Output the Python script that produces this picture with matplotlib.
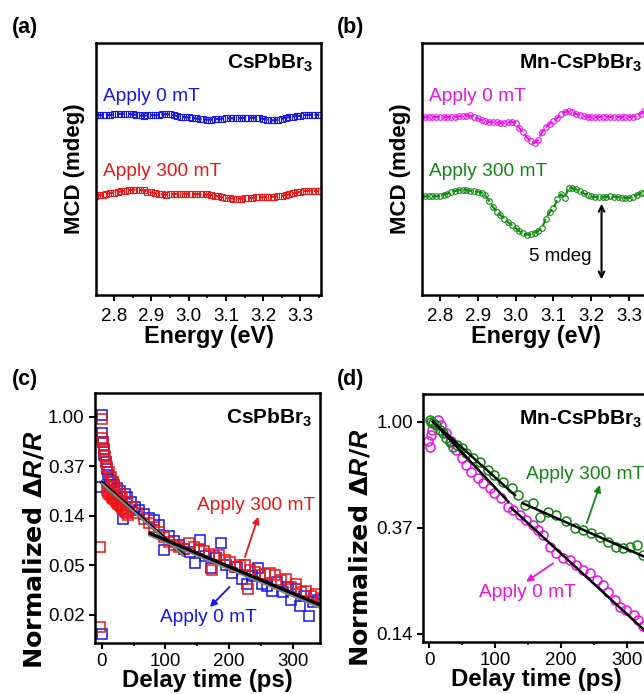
import numpy as np
import matplotlib
matplotlib.use("Agg")
import matplotlib.pyplot as plt
from matplotlib.ticker import FixedLocator, MultipleLocator, FormatStrFormatter

plt.rcParams["font.family"] = ["Liberation Sans", "DejaVu Sans"]
plt.rcParams["mathtext.fontset"] = "custom"
plt.rcParams["mathtext.rm"] = "Liberation Sans:bold"
plt.rcParams["mathtext.it"] = "Liberation Sans:bold:italic"
plt.rcParams["axes.linewidth"] = 1.8

# ---- MCD spectra (mdeg), energy grid in eV ----
energy = np.round(np.arange(2.75, 3.3501, 0.01), 2)

mcd_cs_0mT = [0.02, 0.03, 0.03, 0.02, 0.04, 0.08, 0.11, 0.13, 0.14, 0.12,
              0.08, 0.04, 0.01, 0.0, 0.01, 0.02, 0.03, 0.06, 0.09, 0.10,
              0.09, 0.04, -0.04, -0.07, -0.10, -0.12, -0.15, -0.19, -0.22, -0.25,
              -0.27, -0.27, -0.25, -0.22, -0.20, -0.18, -0.18, -0.18, -0.18, -0.17,
              -0.16, -0.15, -0.14, -0.14, -0.17, -0.22, -0.28, -0.32, -0.31, -0.27,
              -0.21, -0.14, -0.09, -0.06, -0.04, 0.0, 0.03, 0.05, 0.05, 0.05, 0.05]
mcd_cs_300mT = [0.0, 0.03, 0.07, 0.12, 0.17, 0.21, 0.25, 0.29, 0.34, 0.38,
                0.40, 0.40, 0.39, 0.35, 0.28, 0.22, 0.17, 0.12, 0.08, 0.06,
                0.08, 0.11, 0.13, 0.14, 0.13, 0.13, 0.12, 0.11, 0.10, 0.10,
                0.08, 0.04, 0.0, -0.05, -0.11, -0.15, -0.18, -0.20, -0.21, -0.20,
                -0.18, -0.16, -0.14, -0.12, -0.11, -0.10, -0.09, -0.08, -0.06, -0.04,
                -0.01, 0.04, 0.10, 0.16, 0.22, 0.27, 0.31, 0.33, 0.33, 0.32, 0.31]
mcd_mn_0mT = [-0.11, -0.11, -0.10, -0.10, -0.09, -0.09, -0.10, -0.10, -0.09, -0.07,
              -0.05, -0.03, 0.0, 0.01, -0.08, -0.18, -0.30, -0.38, -0.42, -0.44,
              -0.46, -0.48, -0.49, -0.46, -0.40, -0.52, -0.85, -1.12, -1.48, -1.72,
              -1.84, -1.62, -1.10, -0.78, -0.55, -0.37, -0.15, 0.08, 0.24, 0.29,
              0.22, 0.12, 0.03, -0.04, -0.07, -0.09, -0.09, -0.08, -0.08, -0.09,
              -0.09, -0.08, -0.09, -0.10, -0.09, -0.08, -0.06, -0.02, 0.12, 0.29, 0.30]
mcd_mn_300mT = [-0.05, -0.05, -0.04, -0.04, -0.04, 0.0, 0.06, 0.14, 0.24, 0.32,
                0.37, 0.40, 0.38, 0.33, 0.30, 0.27, 0.20, 0.02, -0.35, -0.75,
                -1.08, -1.32, -1.55, -1.80, -1.98, -2.18, -2.40, -2.55, -2.64, -2.60,
                -2.52, -2.38, -2.15, -1.55, -1.12, -0.84, -0.25, 0.10, -0.16, 0.55,
                0.50, 0.42, 0.30, 0.15, 0.05, -0.05, -0.10, -0.12, -0.10, -0.07,
                -0.05, -0.07, -0.10, -0.13, -0.16, -0.14, -0.08, 0.05, 0.18, 0.20, 0.20]
offset_0mT = 0.0
offset_300mT = -5.4

# ---- transient reflectance, CsPbBr3 ----
t_cs_300 = [-3, -3, 0, 1, 2, 3.5, 5, 7, 9, 11.5, 14, 17, 20, 24, 28, 32,
            8, 10, 12, 14, 16, 18, 20, 22, 24, 26, 28, 30, 32, 34, 36, 38, 40, 42,
            40, 48, 56, 66, 74, 82, 90, 98, 106, 113, 121, 129, 137, 145, 153, 161,
            169, 173, 177, 185, 193, 201, 209, 217, 225, 230, 233, 241, 249, 257, 265,
            273, 281, 289, 297, 305, 313, 321, 329, 337, 345]
v_cs_300 = [0.072, 0.0145, 0.955, 0.65, 0.60, 0.51, 0.45, 0.40, 0.365, 0.33, 0.30,
            0.27, 0.25, 0.23, 0.21, 0.20,
            0.228, 0.22, 0.21, 0.205, 0.20, 0.195, 0.19, 0.182, 0.178, 0.172, 0.168,
            0.165, 0.16, 0.155, 0.15, 0.147, 0.143, 0.138,
            0.18, 0.162, 0.145, 0.128, 0.118, 0.108, 0.097, 0.088, 0.080, 0.075,
            0.073, 0.070, 0.078, 0.072, 0.070, 0.066, 0.063, 0.045, 0.060, 0.062,
            0.056, 0.053, 0.048, 0.050, 0.050, 0.031, 0.045, 0.044, 0.041, 0.042,
            0.043, 0.041, 0.037, 0.038, 0.032, 0.034, 0.029, 0.030, 0.027, 0.028, 0.026]
t_cs_0 = [-3, 0, 0, 1, 2, 3, 4, 6, 8, 10, 13, 16, 20, 24, 28, 33, 36, 40, 46, 52,
          58, 66, 74, 82, 90, 98, 106, 114, 122, 130, 138, 146, 155, 163, 171, 180,
          188, 196, 204, 212, 220, 228, 236, 246, 252, 260, 268, 276, 285, 292, 298,
          305, 312, 318, 325, 332, 340]
v_cs_0 = [0.243, 1.03, 0.0125, 0.72, 0.60, 0.52, 0.46, 0.40, 0.35, 0.31, 0.28, 0.27,
          0.255, 0.24, 0.225, 0.128, 0.21, 0.20, 0.18, 0.162, 0.152, 0.142, 0.13,
          0.124, 0.112, 0.068, 0.090, 0.082, 0.075, 0.070, 0.065, 0.052, 0.083, 0.060,
          0.047, 0.058, 0.078, 0.050, 0.043, 0.048, 0.038, 0.034, 0.040, 0.047, 0.034,
          0.033, 0.030, 0.036, 0.029, 0.032, 0.025, 0.031, 0.022, 0.027, 0.018, 0.024,
          0.025]
fit_cs_early_t = [0, 128]
fit_cs_early_0 = [0.26, 0.061]
fit_cs_early_300 = [0.265, 0.062]
fit_cs_late_t = [76, 343]
fit_cs_late_0 = [0.092, 0.0215]
fit_cs_late_300 = [0.095, 0.0225]

# ---- transient reflectance, Mn-CsPbBr3 ----
t_mn_0 = [-2, 0.6, 2, 4, 5.6, 13, 18, 26, 33, 41, 49, 56, 64, 74, 82, 92, 99, 109,
          120, 127, 137, 147, 158, 165, 173, 183, 193, 203, 213, 223, 234, 244, 254,
          264, 272, 282, 289, 299, 310, 317, 325]
v_mn_0 = [0.83, 0.79, 0.88, 0.925, 0.985, 1.016, 0.97, 0.896, 0.83, 0.766, 0.708,
          0.665, 0.624, 0.586, 0.559, 0.533, 0.509, 0.485, 0.449, 0.435, 0.415, 0.396,
          0.377, 0.36, 0.343, 0.308, 0.289, 0.276, 0.271, 0.259, 0.247, 0.24, 0.225,
          0.214, 0.201, 0.186, 0.175, 0.169, 0.162, 0.154, 0.145]
t_mn_300 = [0.6, 3, 6, 11, 16, 21, 26, 31, 36, 42, 49, 56, 66, 77, 89, 99, 112, 125,
            135, 145, 158, 168, 180, 193, 208, 221, 234, 246, 259, 272, 284, 294, 305,
            315, 325]
v_mn_300 = [1.016, 1.0, 0.99, 0.97, 0.925, 0.896, 0.855, 0.828, 0.79, 0.80, 0.778,
            0.742, 0.708, 0.686, 0.634, 0.605, 0.568, 0.533, 0.501, 0.456, 0.463, 0.408,
            0.428, 0.415, 0.39, 0.366, 0.36, 0.349, 0.338, 0.322, 0.308, 0.303, 0.308,
            0.312, 0.285]
fit_mn_0_t = [[5.6, 120], [125, 345]]
fit_mn_0_v = [[1.0, 0.47], [0.442, 0.126]]
fit_mn_300_t = [[5.6, 130], [142, 345]]
fit_mn_300_v = [[1.0, 0.50], [0.463, 0.266]]

e_ticks = [1.0, np.exp(-1), np.exp(-2), np.exp(-3), np.exp(-4)]

W, H = 644, 694
fig = plt.figure(figsize=(W / 100, H / 100), dpi=100)
note_fs = 13.8


def px_axes(x0, y0, x1, y1):
    return fig.add_axes([x0 / W, 1 - y1 / H, (x1 - x0) / W, (y1 - y0) / H])


def style(ax, pad):
    ax.tick_params(which="major", direction="out", length=4.5, width=1.5,
                   labelsize=13.5, pad=pad)
    ax.tick_params(which="minor", direction="out", length=2.5, width=1.2)
    ax.tick_params(right=False, top=False)


def mcd_panel(ax, y0, y300, c0, c300, mk, title):
    for y, off, c in [(y0, offset_0mT, c0), (y300, offset_300mT, c300)]:
        ax.plot(energy, np.array(y) + off, ls="--", lw=1.5, color=c,
                marker=mk, ms=4, mfc="none", mew=0.8)
    ax.set_xlim(2.752, 3.355)
    ax.set_ylim(-12.1, 4.9)
    ax.xaxis.set_major_locator(FixedLocator([2.8, 2.9, 3.0, 3.1, 3.2, 3.3]))
    ax.xaxis.set_major_formatter(FormatStrFormatter("%.1f"))
    ax.xaxis.set_minor_locator(MultipleLocator(0.05))
    ax.set_yticks([])
    style(ax, 5)
    ax.set_xlabel("Energy (eV)", fontsize=16.8, fontweight="bold", labelpad=0)
    ax.set_ylabel("MCD (mdeg)", fontsize=16, fontweight="bold", labelpad=8)
    ax.text(2.772, 1.3, "Apply 0 mT", color=c0, fontsize=note_fs, va="center")
    ax.text(2.772, -3.8, "Apply 300 mT", color=c300, fontsize=note_fs, va="center")
    ax.text(0.965, 0.92, title, transform=ax.transAxes, ha="right", va="center",
            fontsize=15, fontweight="bold")


def tr_panel(ax, ylim, ticks, xlim, lab_xy):
    ax.set_yscale("log", base=np.e)
    ax.set_ylim(*ylim)
    ax.set_xlim(*xlim)
    ax.yaxis.set_major_locator(FixedLocator(ticks))
    ax.yaxis.set_major_formatter(FormatStrFormatter("%.2f"))
    ax.yaxis.set_minor_locator(FixedLocator([]))
    ax.xaxis.set_major_locator(FixedLocator([0, 100, 200, 300]))
    ax.xaxis.set_minor_locator(MultipleLocator(50))
    style(ax, 3)
    ax.set_xlabel("Delay time (ps)", fontsize=17.3, fontweight="bold", labelpad=-1)
    ax.set_ylabel("Normalized Δ$\\mathit{R}$/$\\mathit{R}$", fontsize=18.3,
                  fontweight="bold", family="DejaVu Sans")
    ax.yaxis.set_label_coords(*lab_xy)


# (a)
ax = px_axes(96, 43, 321, 295)
mcd_panel(ax, mcd_cs_0mT, mcd_cs_300mT, "#1515ee", "#ee1515", "s",
          "CsPbBr$_\\mathrm{3}$")

# (b)
ax = px_axes(421.7, 43, 650, 295)
mcd_panel(ax, mcd_mn_0mT, mcd_mn_300mT, "#ee10ee", "#118811", "o",
          "Mn-CsPbBr$_\\mathrm{3}$")
ax.annotate("", xy=(3.227, -5.95), xytext=(3.227, -11.05),
            arrowprops=dict(arrowstyle="<->", lw=1.5, color="k",
                            shrinkA=0, shrinkB=0))
ax.text(3.118, -9.5, "5 mdeg", fontsize=13.5, ha="center", va="center")

# (c)
ax = px_axes(95, 393, 320, 643)
ax.plot(t_cs_0, v_cs_0, ls="none", marker="s", ms=7, mfc="none", mew=1.1,
        color="#1515ee")
ax.plot(t_cs_300, v_cs_300, ls="none", marker="s", ms=7, mfc="none", mew=1.1,
        color="#ee1515")
ax.plot(fit_cs_early_t, fit_cs_early_300, color="k", lw=2.6)
ax.plot(fit_cs_early_t, fit_cs_early_0, color="#888888", lw=1.6)
ax.plot(fit_cs_late_t, fit_cs_late_0, color="#888888", lw=2.4)
ax.plot(fit_cs_late_t, fit_cs_late_300, color="k", lw=2.4)
tr_panel(ax, (0.0104, 1.62), e_ticks, (-10.5, 343), (-0.215, 0.372))
ax.annotate("", xy=(246, 0.133), xytext=(225, 0.059),
            arrowprops=dict(arrowstyle="-|>", lw=1.3, color="#ee1515",
                            mutation_scale=10, shrinkA=0, shrinkB=0))
ax.annotate("", xy=(170, 0.0215), xytext=(201, 0.0323),
            arrowprops=dict(arrowstyle="-|>", lw=1.3, color="#1515ee",
                            mutation_scale=10, shrinkA=0, shrinkB=0))
ax.text(150, 0.168, "Apply 300 mT", color="#ee1515", fontsize=note_fs, va="center")
ax.text(168, 0.0173, "Apply 0 mT", color="#1515ee", fontsize=note_fs,
        ha="center", va="center")
ax.text(0.965, 0.9, "CsPbBr$_\\mathrm{3}$", transform=ax.transAxes, ha="right",
        va="center", fontsize=15, fontweight="bold")

# (d)
ax = px_axes(423.3, 394, 650, 641.7)
ax.plot(t_mn_0, v_mn_0, ls="none", marker="o", ms=6.5, mfc="none", mew=1.1,
        color="#ee10ee")
ax.plot(t_mn_300, v_mn_300, ls="none", marker="o", ms=6.5, mfc="none", mew=1.1,
        color="#118811")
for tt, vv in zip(fit_mn_0_t + fit_mn_300_t, fit_mn_0_v + fit_mn_300_v):
    ax.plot(tt, vv, color="k", lw=1.8)
tr_panel(ax, (0.1256, 1.297), e_ticks[:3], (-9, 335), (-0.226, 0.378))
ax.annotate("", xy=(259, 0.55), xytext=(239, 0.384),
            arrowprops=dict(arrowstyle="-|>", lw=1.3, color="#118811",
                            mutation_scale=10, shrinkA=0, shrinkB=0))
ax.annotate("", xy=(147, 0.221), xytext=(188, 0.263),
            arrowprops=dict(arrowstyle="-|>", lw=1.3, color="#ee10ee",
                            mutation_scale=10, shrinkA=0, shrinkB=0))
ax.text(147, 0.605, "Apply 300 mT", color="#118811", fontsize=note_fs, va="center")
ax.text(148.5, 0.199, "Apply 0 mT", color="#ee10ee", fontsize=note_fs,
        ha="center", va="center")
ax.text(0.965, 0.9, "Mn-CsPbBr$_\\mathrm{3}$", transform=ax.transAxes, ha="right",
        va="center", fontsize=15, fontweight="bold")

for lbl, x, y in [("(a)", 12, 27), ("(b)", 337, 27), ("(c)", 12, 379), ("(d)", 337, 379)]:
    fig.text(x / W, 1 - y / H, lbl, fontsize=15.5, fontweight="bold", va="center")

fig.savefig("out.png", dpi=100)
